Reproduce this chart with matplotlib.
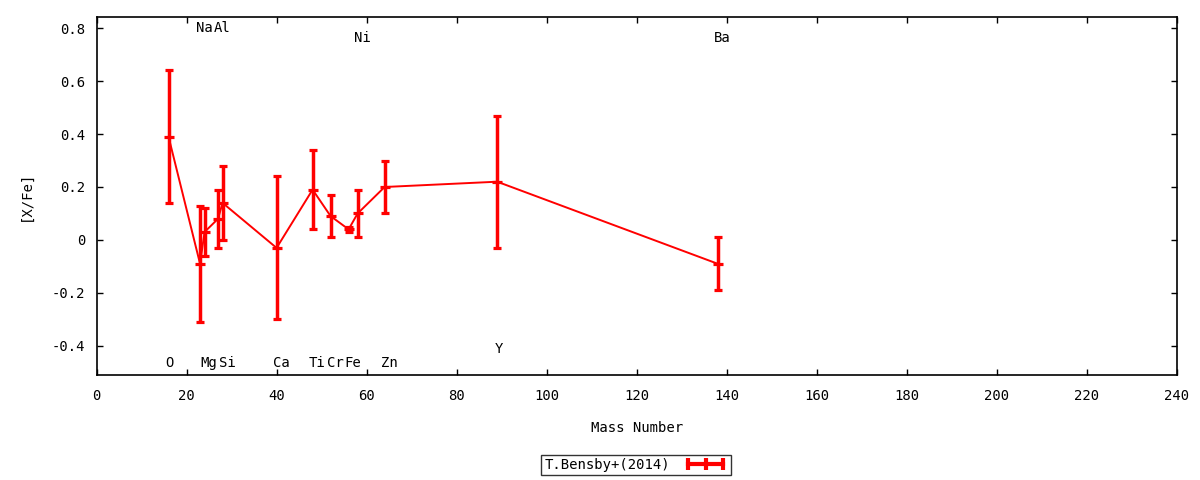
import matplotlib
matplotlib.use('Agg')
from matplotlib import pyplot as plt
from matplotlib.lines import Line2D

# Bensby et al. (2014) abundance ratios
elements = ['O', 'Na', 'Mg', 'Al', 'Si', 'Ca', 'Ti', 'Cr', 'Fe', 'Ni', 'Zn', 'Y', 'Ba']
mass = [16, 23, 24, 27, 28, 40, 48, 52, 56, 58, 64, 89, 138]
xfe = [0.39, -0.09, 0.03, 0.08, 0.14, -0.03, 0.19, 0.09, 0.04, 0.10, 0.20, 0.22, -0.09]
err = [0.25, 0.22, 0.09, 0.11, 0.14, 0.27, 0.15, 0.08, 0.01, 0.09, 0.10, 0.25, 0.10]

# where the element names sit (top / bottom rows)
label_y = [-0.465, 0.80, -0.465, 0.80, -0.465, -0.465, -0.465, -0.465, -0.465,
           0.762, -0.465, -0.41, 0.762]
label_dx = [0.2, 1, 1, 1, 1, 1, 1, 1, 1, 1, 1, 0.3, 1]

plt.rcParams['font.family'] = 'DejaVu Sans Mono'
plt.rcParams['font.size'] = 10

fig = plt.figure(figsize=(12, 4.8), dpi=100)
ax = fig.add_axes([96.5 / 1200, 1 - 375 / 480, 1080.5 / 1200, 358 / 480])

red = '#ff0000'
ax.errorbar(mass, xfe, yerr=err, color=red, lw=1.4, elinewidth=2.5,
            capsize=2.9, capthick=2.4, marker='_', ms=7.5, mew=2.3)

for el, x, ly, dx in zip(elements, mass, label_y, label_dx):
    ax.text(x + dx, ly, el, ha='center', va='center')

ax.set_xlim(0, 240)
ax.set_ylim(-0.51, 0.842)
ax.set_xticks(range(0, 241, 20))
ax.set_yticks([-0.4, -0.2, 0, 0.2, 0.4, 0.6, 0.8])
ax.set_yticklabels(['-0.4', '-0.2', '0', '0.2', '0.4', '0.6', '0.8'])
ax.tick_params(axis='x', direction='in', length=4, width=1, top=True, pad=10)
ax.tick_params(axis='y', direction='in', length=4, width=1, right=True, pad=8)
for s in ax.spines.values():
    s.set_linewidth(1.2)

ax.set_xlabel('Mass Number', labelpad=13)
ax.set_ylabel('[X/Fe]', labelpad=14)

handle = Line2D([0], [0], color=red, lw=3, marker='|', ms=8, mew=3)
leg = fig.legend([handle], ['T.Bensby+(2014)'], loc='center',
                 bbox_to_anchor=(636 / 1200, 1 - 465 / 480), numpoints=3,
                 markerfirst=False, frameon=True, fancybox=False,
                 edgecolor='black', borderpad=0.25, handlelength=3.1,
                 handletextpad=1.0, borderaxespad=0)
leg.get_frame().set_linewidth(1.0)

fig.savefig('out.png', dpi=100)
plt.close(fig)
